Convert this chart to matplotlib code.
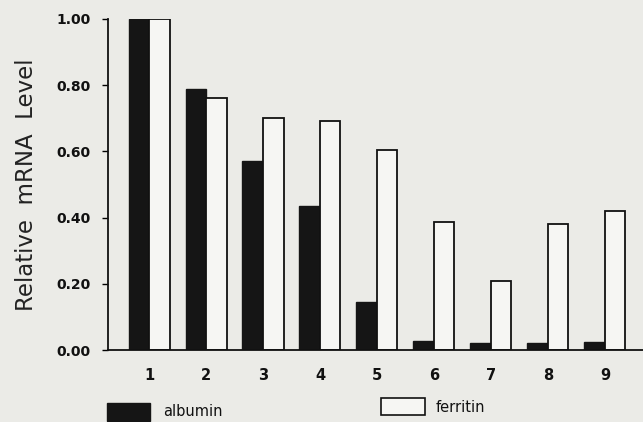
import matplotlib
matplotlib.use("Agg")
import matplotlib.pyplot as plt
import numpy as np
from matplotlib.patches import Rectangle

groups = [1, 2, 3, 4, 5, 6, 7, 8, 9]
albumin = [1.00, 0.79, 0.57, 0.435, 0.145, 0.028, 0.022, 0.02, 0.024]
ferritin = [1.00, 0.76, 0.70, 0.692, 0.604, 0.387, 0.209, 0.38, 0.419]
yticks = [0.0, 0.2, 0.4, 0.6, 0.8, 1.0]
ytick_labels = ["0.00", "0.20", "0.40", "0.60", "0.80", "1.00"]
series_names = ["albumin", "ferritin"]

bg = "#ebebe7"
fig = plt.figure(figsize=(6.43, 4.22), dpi=100, facecolor=bg)
ax = fig.add_axes([0.168, 0.1706, 0.832, 0.7844], facecolor=bg)

x = np.array(groups, dtype=float)
w = 0.36
ax.bar(x - w / 2, albumin, width=w, color="#151515", edgecolor="#151515", linewidth=1.0)
ax.bar(x + w / 2, ferritin, width=w, color="#f6f6f3", edgecolor="#111111", linewidth=1.3)

ax.set_xlim(0.28, 9.67)
ax.set_ylim(0, 1.0)
ax.set_yticks(yticks)
ax.set_yticklabels(ytick_labels)
ax.set_xticks(x)
ax.set_xticklabels([str(g) for g in groups])
ax.tick_params(axis="y", direction="out", length=4.5, width=1.0, pad=8, labelsize=10)
ax.tick_params(axis="x", length=0, pad=13, labelsize=10.5)
for lab in ax.get_xticklabels() + ax.get_yticklabels():
    lab.set_fontweight("bold")
    lab.set_color("#111111")
for s in ["top", "right"]:
    ax.spines[s].set_visible(False)
for s in ["left", "bottom"]:
    ax.spines[s].set_linewidth(1.3)
    ax.spines[s].set_color("#111111")

ax.set_ylabel("Relative  mRNA  Level", fontsize=16.5, labelpad=13, color="#222222")

# legend drawn in figure coordinates
fig.patches.append(Rectangle((107 / 643, 1 - 421 / 422), 43 / 643, 18 / 422,
                             transform=fig.transFigure, facecolor="#151515",
                             edgecolor="#151515", lw=1))
fig.text(163 / 643, 1 - 412 / 422, series_names[0], fontsize=10.5, va="center", ha="left",
         color="#111111")
fig.patches.append(Rectangle((381 / 643, 1 - 415 / 422), 44 / 643, 17 / 422,
                             transform=fig.transFigure, facecolor="#f6f6f3",
                             edgecolor="#111111", lw=1.2))
fig.text(436 / 643, 1 - 407 / 422, series_names[1], fontsize=10.5, va="center", ha="left",
         color="#111111")

fig.savefig("out.png", dpi=100, facecolor=bg)
